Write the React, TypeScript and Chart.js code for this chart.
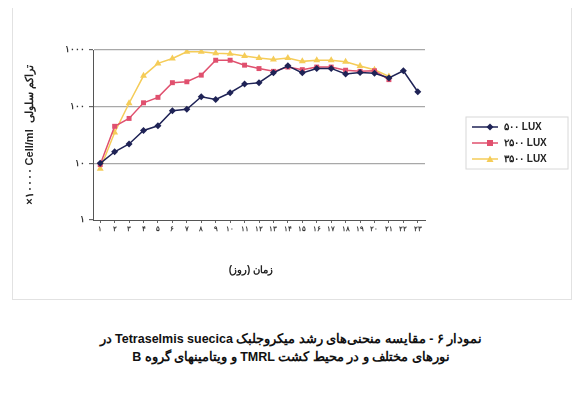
import React, { useEffect, useRef } from "react";
import { Chart, registerables } from "chart.js";
Chart.register(...registerables);

const fa = (s: string | number) => String(s).replace(/\d/g, (d) => "۰۱۲۳۴۵۶۷۸۹"[Number(d)]);

const days = Array.from({ length: 23 }, (_, i) => i + 1);
const dayLabels = days.map((d) => fa(d));
const seriesNames = ["۵۰۰ LUX", "۲۵۰۰ LUX", "۳۵۰۰ LUX"];
const lux500 = [10, 16, 22, 38, 46, 85, 90, 150, 134, 176, 250, 265, 395, 525, 395, 473, 473, 376, 400, 390, 320, 430, 183];
const lux2500 = [9.5, 45, 62, 117, 146, 265, 275, 360, 660, 660, 540, 470, 420, 500, 450, 500, 500, 440, 420, 430, 300];
const lux3500 = [8, 35, 115, 350, 580, 710, 930, 930, 880, 860, 780, 720, 680, 720, 630, 660, 660, 620, 520, 450, 340];
const yTicks = [1, 10, 100, 1000];
const colors = ["#1f2356", "#e0506e", "#f5cc58"];
const markers = ["rectRot", "rect", "triangle"];
const yTitle = "×۱۰۰۰۰ Cell/ml  تراکم سلولی";
const xTitle = "زمان (روز)";
const caption1 = "نمودار ۶ - مقایسه منحنی‌های رشد میکروجلبک Tetraselmis suecica در";
const caption2 = "نورهای مختلف و در محیط کشت TMRL و ویتامینهای گروه B";

const FONT = "'Liberation Sans', Arial, sans-serif";

export default function App() {
  const ref = useRef<HTMLCanvasElement>(null);
  useEffect(() => {
    if (!ref.current) return;
    const overlay = {
      id: "overlay",
      afterDraw(chart: any) {
        const ctx = chart.ctx;
        const ca = chart.chartArea;
        ctx.save();
        ctx.fillStyle = "#222";
        ctx.font = `bold 11px ${FONT}`;
        ctx.textAlign = "center";
        ctx.textBaseline = "middle";
        ctx.translate(22, (ca.top + ca.bottom) / 2);
        ctx.rotate(-Math.PI / 2);
        ctx.fillText(yTitle, 0, 0);
        ctx.restore();
        ctx.save();
        ctx.fillStyle = "#222";
        ctx.font = `bold 10px ${FONT}`;
        ctx.textAlign = "center";
        ctx.textBaseline = "middle";
        ctx.fillText(xTitle, (ca.left + ca.right) / 2 - 8, 262);
        const lx = 464, ly0 = 119;
        chart.data.datasets.forEach((ds: any, i: number) => {
          const y = ly0 + i * 16;
          ctx.strokeStyle = ds.borderColor;
          ctx.lineWidth = 1.5;
          ctx.beginPath();
          ctx.moveTo(lx, y);
          ctx.lineTo(lx + 26, y);
          ctx.stroke();
          ctx.fillStyle = ds.backgroundColor;
          const cx = lx + 18;
          ctx.beginPath();
          if (i === 0) {
            ctx.moveTo(cx, y - 3.5); ctx.lineTo(cx + 3.5, y); ctx.lineTo(cx, y + 3.5); ctx.lineTo(cx - 3.5, y);
          } else if (i === 1) {
            ctx.rect(cx - 3, y - 3, 6, 6);
          } else {
            ctx.moveTo(cx, y - 3.5); ctx.lineTo(cx + 3.5, y + 3); ctx.lineTo(cx - 3.5, y + 3);
          }
          ctx.closePath();
          ctx.fill();
          ctx.fillStyle = "#222";
          ctx.font = `bold 10px ${FONT}`;
          ctx.textAlign = "left";
          ctx.fillText(seriesNames[i], lx + 32, y);
        });
        ctx.strokeStyle = "#d8d8d8";
        ctx.lineWidth = 1;
        ctx.strokeRect(lx - 6, ly0 - 10, 102, 52);
        ctx.restore();
      },
    };
    const chart = new Chart(ref.current, {
      type: "line",
      data: {
        labels: dayLabels,
        datasets: [lux500, lux2500, lux3500].map((d, i) => ({
          label: seriesNames[i],
          data: d,
          borderColor: colors[i],
          backgroundColor: colors[i],
          borderWidth: 1.5,
          pointStyle: markers[i] as any,
          pointRadius: i === 2 ? 4 : 3.5,
          pointBorderWidth: 0,
          tension: 0,
        })),
      },
      options: {
        animation: false,
        responsive: false,
        layout: { padding: { left: 0, right: 149, top: 42, bottom: 0 } },
        plugins: { legend: { display: false }, tooltip: { enabled: false } },
        scales: {
          x: {
            type: "category",
            offset: true,
            afterFit: (s: any) => { s.height = 78; },
            grid: { display: true, drawOnChartArea: false, tickLength: 3, color: "#666" },
            border: { display: true, color: "#555", width: 1 },
            ticks: { autoSkip: false, maxRotation: 0, minRotation: 0, padding: 2, color: "#333", font: { size: 7, weight: "bold", family: FONT } },
          },
          y: {
            type: "logarithmic",
            min: 1,
            max: 1000,
            afterFit: (s: any) => { s.width = 85; },
            afterBuildTicks: (s: any) => { s.ticks = yTicks.map((v) => ({ value: v })); },
            grid: {
              color: (c: any) => (c.tick && c.tick.value > 1 ? "#a8a8a8" : "rgba(0,0,0,0)"),
              tickColor: "#666",
              tickLength: 4,
              lineWidth: 1.2,
            },
            border: { display: true, color: "#555", width: 1 },
            ticks: {
              padding: 4,
              color: "#333",
              font: { size: 9, weight: "bold", family: FONT },
              callback: (v: any) => (yTicks.includes(Number(v)) ? fa(v) : ""),
            },
          },
        },
      },
      plugins: [overlay],
    });
    return () => chart.destroy();
  }, []);
  return (
    <div style={{ position: "relative", width: 566, height: 397, background: "#fff", fontFamily: FONT }}>
      <div style={{ position: "absolute", left: 4, top: -2, width: 558, height: 292, border: "1px solid #e2e2e2" }} />
      <canvas ref={ref} width={566} height={290} style={{ position: "absolute", left: 0, top: 0, width: 566, height: 290 }} />
      <div
        dir="rtl"
        style={{
          position: "absolute",
          left: 0,
          top: 322,
          width: 566,
          textAlign: "center",
          fontSize: 12.5,
          fontWeight: "bold",
          lineHeight: "18px",
          color: "#111",
        }}
      >
        <div>{caption1}</div>
        <div>{caption2}</div>
      </div>
    </div>
  );
}
